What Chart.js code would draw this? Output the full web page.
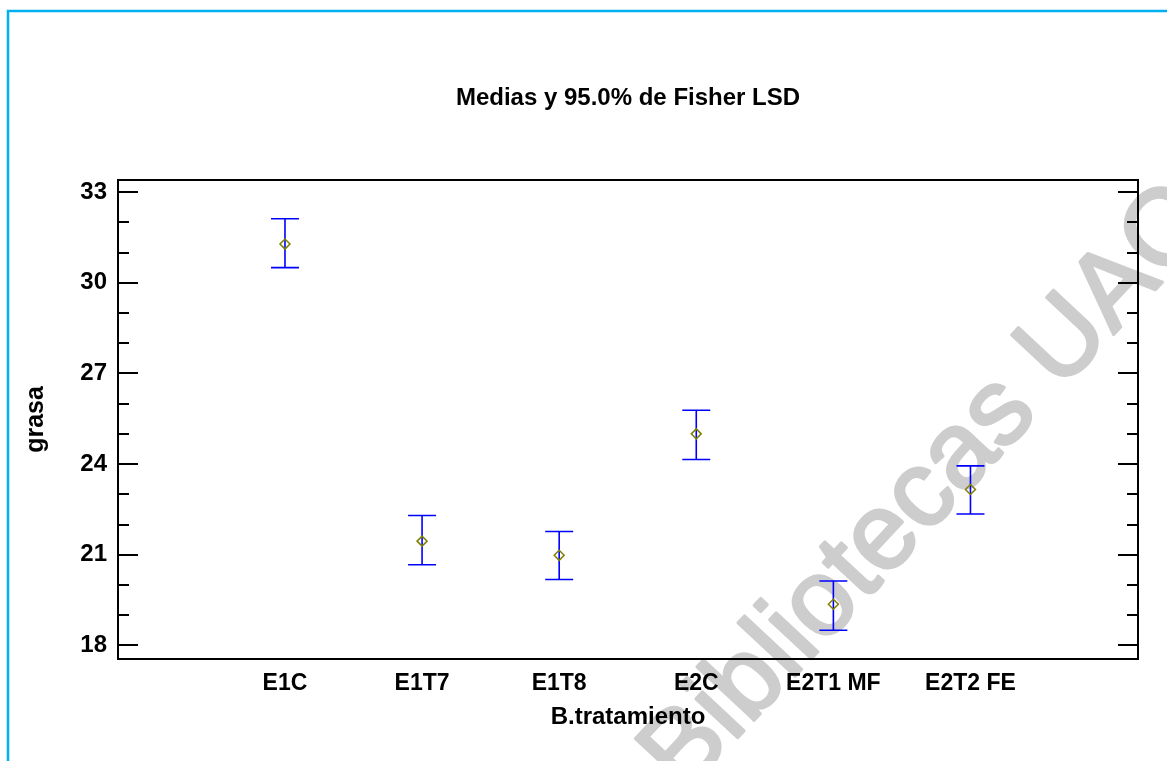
<!DOCTYPE html>
<html lang="es">
<head>
<meta charset="UTF-8">
<title>Medias y 95.0% de Fisher LSD</title>
<script src="https://cdn.jsdelivr.net/npm/chart.js@4.4.1/dist/chart.umd.min.js"></script>
<style>
  html, body { margin: 0; padding: 0; background: #fff; overflow: hidden; }
  #wrap { width: 1167px; height: 761px; position: relative; }
</style>
</head>
<body>
<div id="wrap"><canvas id="lsdChart"></canvas></div>
<script>
// Datos
const categorias = ['E1C', 'E1T7', 'E1T8', 'E2C', 'E2T1 MF', 'E2T2 FE'];
const medias = [31.28, 21.45, 20.98, 25.00, 19.36, 23.16];
const limiteInf = [30.50, 20.67, 20.18, 24.15, 18.50, 22.35];
const limiteSup = [32.12, 22.30, 21.77, 25.78, 20.13, 23.94];
const ticksY = [18, 21, 24, 27, 30, 33];
const marcaAgua = 'Bibliotecas UAC';

const FUENTE = "'Liberation Sans', Arial, sans-serif";

// Marco celeste y marca de agua (antes de todo)
const fondoPlugin = {
    id: 'fondo',
    beforeDraw(chart) {
        const ctx = chart.ctx;
        ctx.save();
        ctx.fillStyle = '#ffffff';
        ctx.fillRect(0, 0, chart.width, chart.height);
        ctx.strokeStyle = '#00b0f0';
        ctx.lineWidth = 2.5;
        ctx.strokeRect(8, 11, chart.width + 20, chart.height + 20);

        ctx.translate(928, 490);
        ctx.rotate(-47 * Math.PI / 180);
        ctx.font = '108px ' + FUENTE;
        ctx.fillStyle = '#cdcdcd';
        ctx.strokeStyle = '#cdcdcd';
        ctx.lineWidth = 3;
        ctx.lineJoin = 'round';
        ctx.textAlign = 'center';
        ctx.textBaseline = 'middle';
        ctx.fillText(marcaAgua, 0, 0);
        ctx.strokeText(marcaAgua, 0, 0);
        ctx.restore();
    }
};

// Barras de error, caja y marcas hacia adentro
const lsdPlugin = {
    id: 'lsd',
    beforeDatasetsDraw(chart) {
        const ctx = chart.ctx;
        const x = chart.scales.x, y = chart.scales.y;
        ctx.save();
        ctx.strokeStyle = '#0000ff';
        ctx.lineWidth = 1.6;
        categorias.forEach((c, i) => {
            const px = x.getPixelForValue(i);
            const pInf = y.getPixelForValue(limiteInf[i]);
            const pSup = y.getPixelForValue(limiteSup[i]);
            const half = Math.abs(x.getPixelForValue(i + 0.102) - px);
            ctx.beginPath();
            ctx.moveTo(px, pInf); ctx.lineTo(px, pSup);
            ctx.moveTo(px - half, pInf); ctx.lineTo(px + half, pInf);
            ctx.moveTo(px - half, pSup); ctx.lineTo(px + half, pSup);
            ctx.stroke();
        });
        ctx.restore();
    },
    afterDraw(chart) {
        const ctx = chart.ctx;
        const a = chart.chartArea;
        const y = chart.scales.y;
        ctx.save();
        ctx.strokeStyle = '#000000';
        ctx.lineWidth = 2;
        ctx.strokeRect(a.left, a.top, a.right - a.left, a.bottom - a.top);
        ctx.beginPath();
        for (let v = Math.ceil(y.min); v <= y.max; v++) {
            const py = Math.round(y.getPixelForValue(v));
            const len = ticksY.includes(v) ? 20 : 11;
            ctx.moveTo(a.left, py); ctx.lineTo(a.left + len, py);
            ctx.moveTo(a.right, py); ctx.lineTo(a.right - len, py);
        }
        ctx.stroke();
        ctx.restore();
    }
};

const ctx = document.getElementById('lsdChart').getContext('2d');
new Chart(ctx, {
    type: 'scatter',
    data: {
        datasets: [{
            label: 'Medias',
            data: medias.map((m, i) => ({ x: i, y: m })),
            pointStyle: 'rectRot',
            pointRadius: 5,
            pointHoverRadius: 5,
            borderColor: '#808000',
            backgroundColor: 'rgba(0,0,0,0)',
            borderWidth: 1.5
        }]
    },
    options: {
        responsive: true,
        maintainAspectRatio: false,
        animation: false,
        layout: { padding: { left: 0, top: 0, right: 29, bottom: 0 } },
        plugins: {
            legend: { display: false },
            tooltip: { enabled: false },
            title: {
                display: true,
                fullSize: false,
                text: 'Medias y 95.0% de Fisher LSD',
                color: '#000',
                font: { family: FUENTE, size: 24, weight: 'bold' },
                padding: { top: 84, bottom: 67.2 }
            }
        },
        scales: {
            x: {
                type: 'linear',
                min: -1.218,
                max: 6.222,
                grid: { display: false, drawTicks: false },
                border: { display: false },
                afterBuildTicks: (s) => { s.ticks = categorias.map((c, i) => ({ value: i })); },
                afterFit: (s) => { s.height = 102; },
                ticks: {
                    padding: 11,
                    maxRotation: 0,
                    autoSkip: false,
                    color: '#000',
                    font: { family: FUENTE, size: 23, weight: 'bold' },
                    callback: (v) => categorias[v]
                },
                title: {
                    display: true,
                    text: 'B.tratamiento',
                    color: '#000',
                    font: { family: FUENTE, size: 24, weight: 'bold' },
                    padding: { top: 0, bottom: 29 }
                }
            },
            y: {
                min: 17.55,
                max: 33.4,
                grid: { display: false, drawTicks: false },
                border: { display: false },
                afterBuildTicks: (s) => { s.ticks = ticksY.map(v => ({ value: v })); },
                afterFit: (s) => { s.width = 118; },
                ticks: {
                    padding: 11,
                    color: '#000',
                    font: { family: FUENTE, size: 24, weight: 'bold' }
                },
                title: {
                    display: true,
                    text: 'grasa',
                    color: '#000',
                    font: { family: FUENTE, size: 25, weight: 'bold' },
                    padding: { top: 21, bottom: 0 }
                }
            }
        }
    },
    plugins: [fondoPlugin, lsdPlugin]
});
</script>
</body>
</html>
